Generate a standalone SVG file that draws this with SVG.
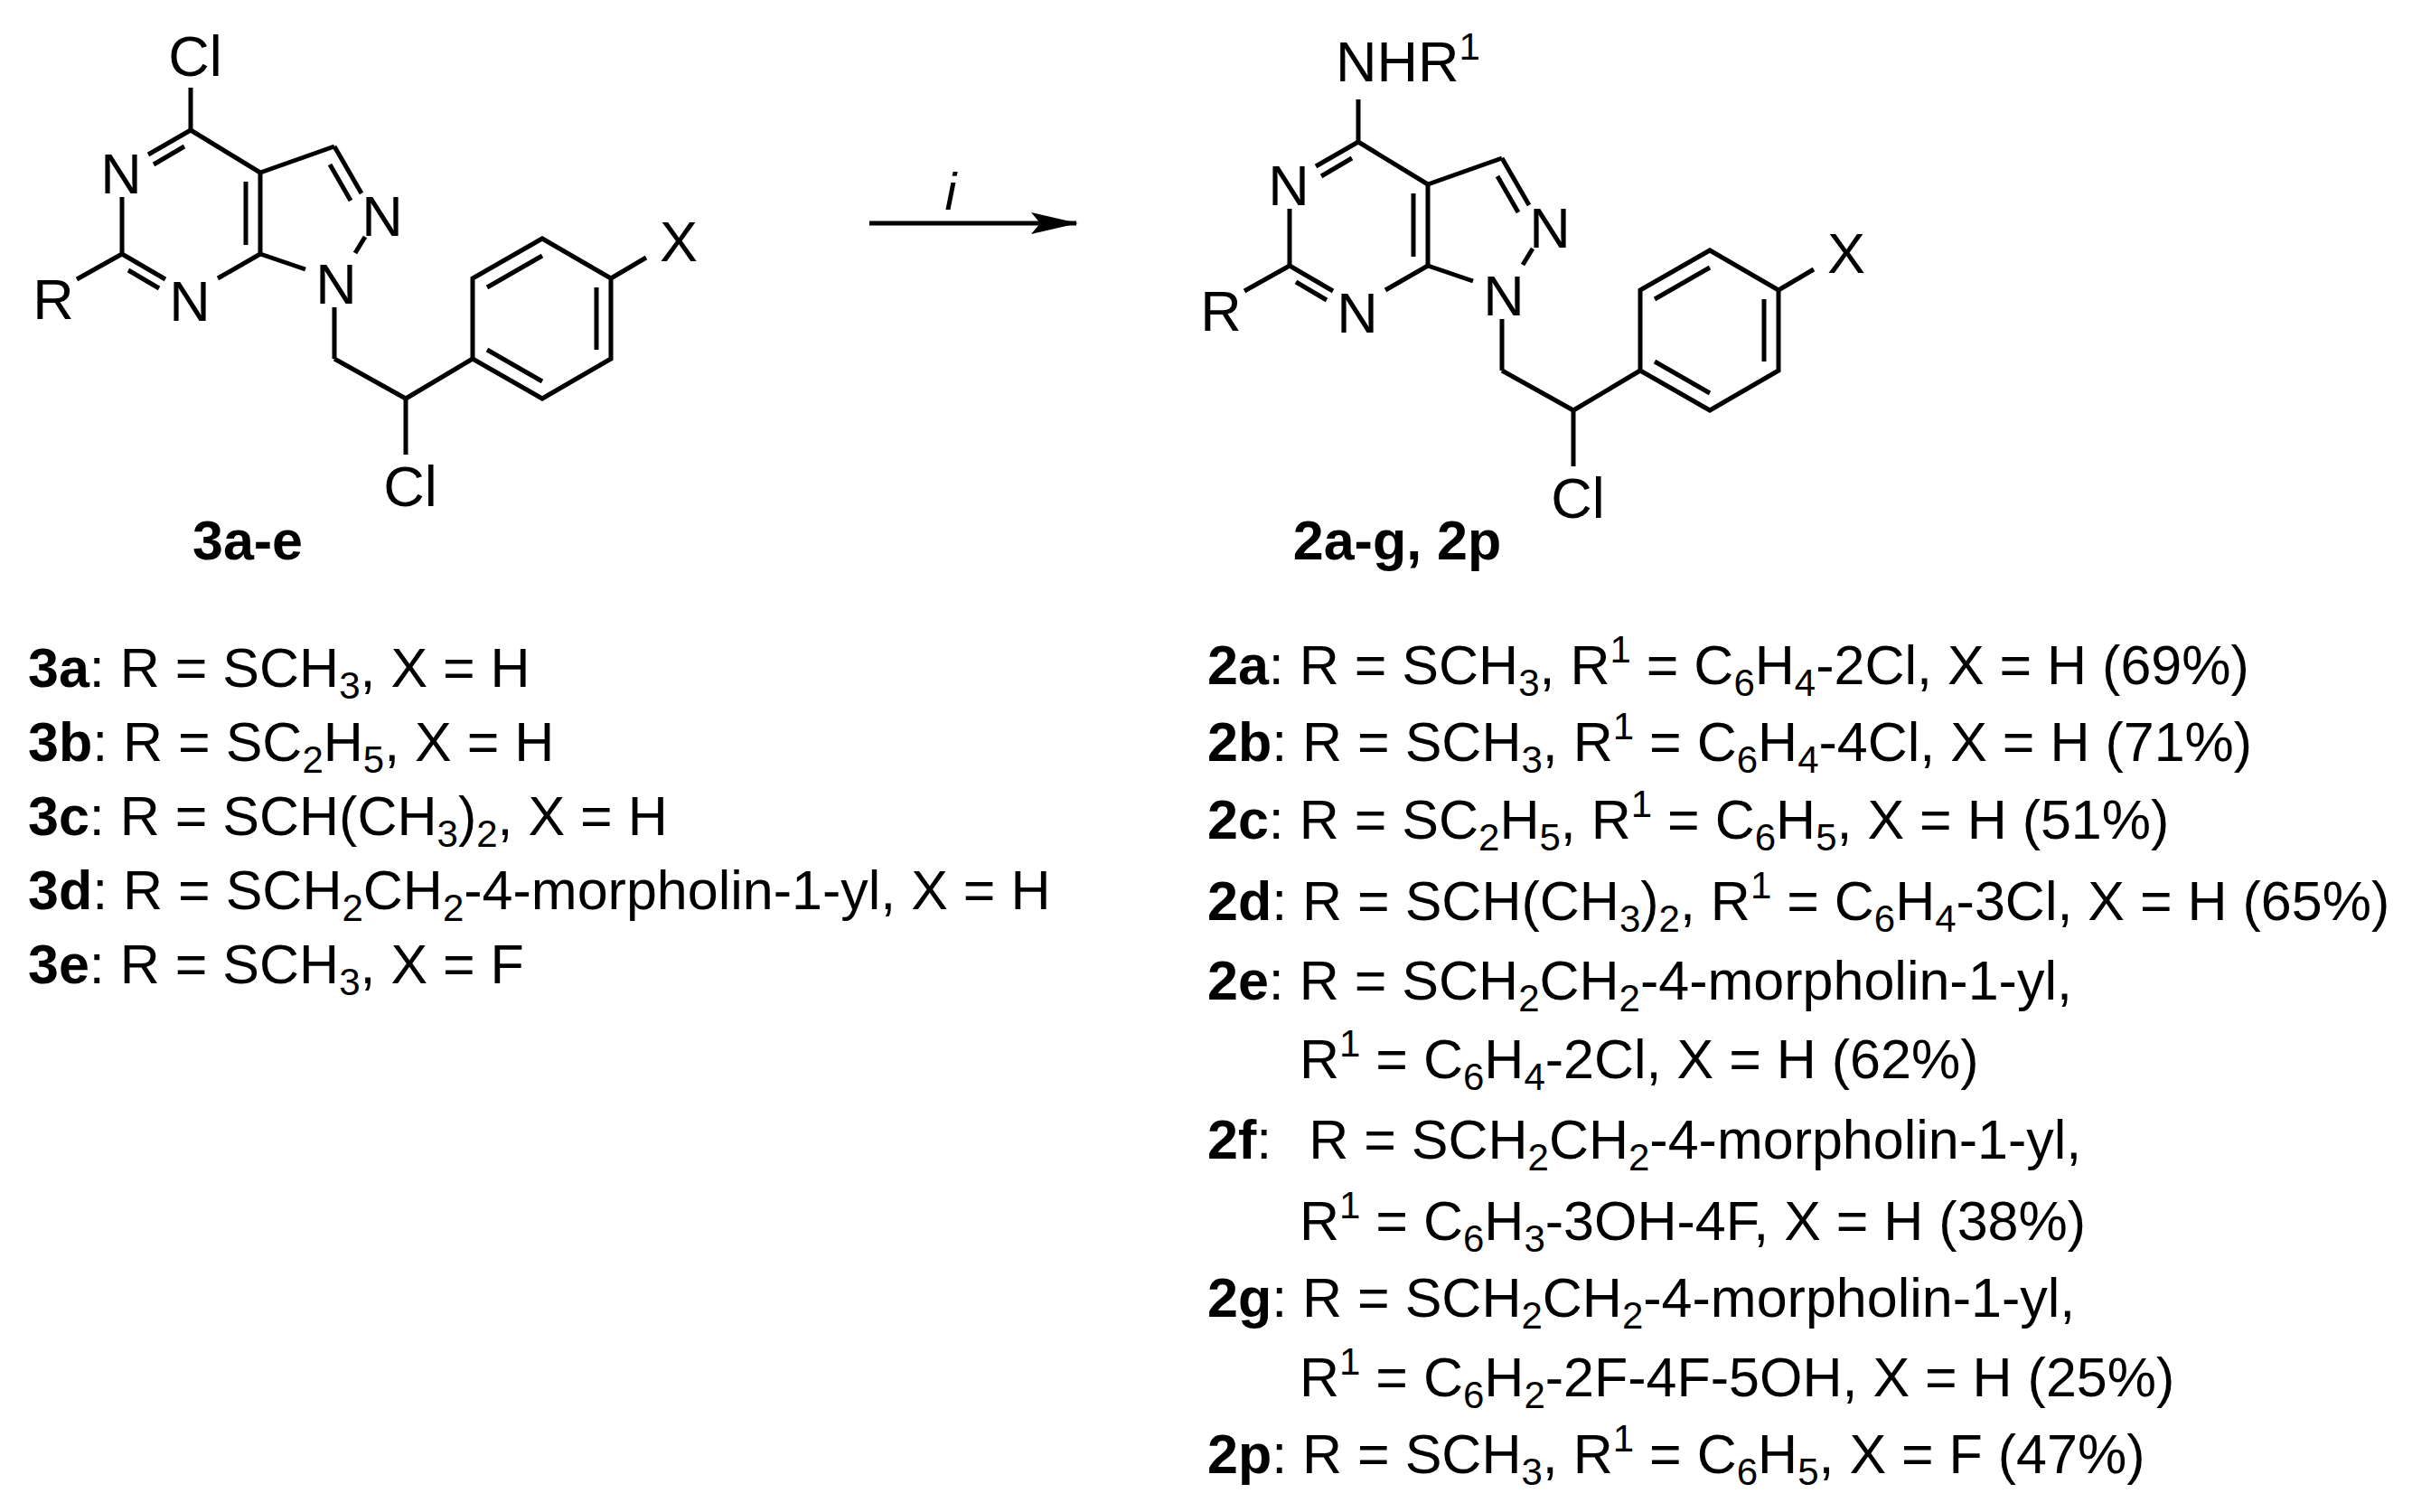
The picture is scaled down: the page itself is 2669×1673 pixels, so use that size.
<svg xmlns="http://www.w3.org/2000/svg" width="2669" height="1673" viewBox="0 0 2669 1673">
<style>
text{font-family:"Liberation Sans",Arial,sans-serif;font-size:61px;fill:#000}
.lbl{text-anchor:middle;font-size:63px}
.b{font-weight:bold}
.s{font-size:42px}
line,polyline{stroke:#000;stroke-width:5;fill:none}
</style>
<defs>
<marker id="ah" markerWidth="52" markerHeight="24" refX="50" refY="12" orient="auto" markerUnits="userSpaceOnUse" viewBox="0 0 52 24">
<path d="M0,0 L52,12 L0,24 L10,12 Z" fill="#000"/>
</marker>
<g id="mol">
<line x1="211" y1="144" x2="211" y2="97"/>
<line x1="211" y1="144" x2="164" y2="171"/>
<line x1="204" y1="162" x2="170" y2="182"/>
<line x1="135" y1="218" x2="135" y2="281"/>
<line x1="135" y1="281" x2="85" y2="309"/>
<line x1="135" y1="281" x2="183" y2="309"/>
<line x1="142" y1="299" x2="176" y2="319"/>
<line x1="241" y1="308" x2="288" y2="281"/>
<line x1="211" y1="144" x2="288" y2="191"/>
<line x1="288" y1="191" x2="288" y2="281"/>
<line x1="272" y1="201" x2="272" y2="271"/>
<line x1="288" y1="191" x2="370" y2="162"/>
<line x1="370" y1="162" x2="400" y2="214"/>
<line x1="365" y1="182" x2="388" y2="222"/>
<line x1="404" y1="262" x2="393" y2="280"/>
<line x1="288" y1="281" x2="338" y2="298"/>
<line x1="370" y1="340" x2="370" y2="397"/>
<polyline points="370,397 449,441 523,397"/>
<line x1="449" y1="441" x2="449" y2="503"/>
<polyline points="523,397 523,308 600,264 676,308 676,397 600,441 523,397"/>
<line x1="539" y1="318" x2="600" y2="283"/>
<line x1="660" y1="318" x2="660" y2="387"/>
<line x1="539" y1="387" x2="600" y2="422"/>
<line x1="676" y1="308" x2="715" y2="285"/>
<text class="lbl" x="134" y="214">N</text>
<text class="lbl" x="210" y="355">N</text>
<text class="lbl" x="423" y="261">N</text>
<text class="lbl" x="372" y="336">N</text>
<text class="lbl" x="59" y="353">R</text>
<text class="lbl" x="751" y="289">X</text>
<text class="lbl" x="454" y="560">Cl</text>
</g>
</defs>
<g id="reactant">
<use href="#mol"/>
<text class="lbl" x="216" y="84">Cl</text>
<text class="lbl b" x="274" y="619" style="font-size:61px">3a-e</text>
</g>
<g id="product">
<use href="#mol" transform="translate(1292,13)"/>
<text x="1478" y="90" style="font-size:63px">NHR<tspan class="s" dy="-24">1</tspan></text>
<text class="lbl b" x="1546" y="619" style="font-size:61px">2a-g, 2p</text>
</g>
<g id="connectors">
<line x1="962" y1="247" x2="1191" y2="247" marker-end="url(#ah)"/>
<text class="lbl" x="1052" y="232" font-style="italic" style="font-size:58px">i</text>
</g>
<g id="list3">
<text x="31" y="760"><tspan class="b">3a</tspan>: R = SCH<tspan class="s" dy="13">3</tspan><tspan dy="-13">, X = H</tspan></text>
<text x="31" y="842"><tspan class="b">3b</tspan>: R = SC<tspan class="s" dy="13">2</tspan><tspan dy="-13">H</tspan><tspan class="s" dy="13">5</tspan><tspan dy="-13">, X = H</tspan></text>
<text x="31" y="924"><tspan class="b">3c</tspan>: R = SCH(CH<tspan class="s" dy="13">3</tspan><tspan dy="-13">)</tspan><tspan class="s" dy="13">2</tspan><tspan dy="-13">, X = H</tspan></text>
<text x="31" y="1006"><tspan class="b">3d</tspan>: R = SCH<tspan class="s" dy="13">2</tspan><tspan dy="-13">CH</tspan><tspan class="s" dy="13">2</tspan><tspan dy="-13">-4-morpholin-1-yl, X = H</tspan></text>
<text x="31" y="1088"><tspan class="b">3e</tspan>: R = SCH<tspan class="s" dy="13">3</tspan><tspan dy="-13">, X = F</tspan></text>
</g>
<g id="list2">
<text x="1336" y="757"><tspan class="b">2a</tspan>: R = SCH<tspan class="s" dy="13">3</tspan><tspan dy="-13">, R</tspan><tspan class="s" dy="-24">1</tspan><tspan dy="24"> = C</tspan><tspan class="s" dy="13">6</tspan><tspan dy="-13">H</tspan><tspan class="s" dy="13">4</tspan><tspan dy="-13">-2Cl, X = H (69%)</tspan></text>
<text x="1336" y="842"><tspan class="b">2b</tspan>: R = SCH<tspan class="s" dy="13">3</tspan><tspan dy="-13">, R</tspan><tspan class="s" dy="-24">1</tspan><tspan dy="24"> = C</tspan><tspan class="s" dy="13">6</tspan><tspan dy="-13">H</tspan><tspan class="s" dy="13">4</tspan><tspan dy="-13">-4Cl, X = H (71%)</tspan></text>
<text x="1336" y="928"><tspan class="b">2c</tspan>: R = SC<tspan class="s" dy="13">2</tspan><tspan dy="-13">H</tspan><tspan class="s" dy="13">5</tspan><tspan dy="-13">, R</tspan><tspan class="s" dy="-24">1</tspan><tspan dy="24"> = C</tspan><tspan class="s" dy="13">6</tspan><tspan dy="-13">H</tspan><tspan class="s" dy="13">5</tspan><tspan dy="-13">, X = H (51%)</tspan></text>
<text x="1336" y="1018"><tspan class="b">2d</tspan>: R = SCH(CH<tspan class="s" dy="13">3</tspan><tspan dy="-13">)</tspan><tspan class="s" dy="13">2</tspan><tspan dy="-13">, R</tspan><tspan class="s" dy="-24">1</tspan><tspan dy="24"> = C</tspan><tspan class="s" dy="13">6</tspan><tspan dy="-13">H</tspan><tspan class="s" dy="13">4</tspan><tspan dy="-13">-3Cl, X = H (65%)</tspan></text>
<text x="1336" y="1106"><tspan class="b">2e</tspan>: R = SCH<tspan class="s" dy="13">2</tspan><tspan dy="-13">CH</tspan><tspan class="s" dy="13">2</tspan><tspan dy="-13">-4-morpholin-1-yl,</tspan></text>
<text x="1438" y="1193">R<tspan class="s" dy="-24">1</tspan><tspan dy="24"> = C</tspan><tspan class="s" dy="13">6</tspan><tspan dy="-13">H</tspan><tspan class="s" dy="13">4</tspan><tspan dy="-13">-2Cl, X = H (62%)</tspan></text>
<text x="1336" y="1282"><tspan class="b">2f</tspan>:<tspan dx="24"> R = SCH</tspan><tspan class="s" dy="13">2</tspan><tspan dy="-13">CH</tspan><tspan class="s" dy="13">2</tspan><tspan dy="-13">-4-morpholin-1-yl,</tspan></text>
<text x="1438" y="1372">R<tspan class="s" dy="-24">1</tspan><tspan dy="24"> = C</tspan><tspan class="s" dy="13">6</tspan><tspan dy="-13">H</tspan><tspan class="s" dy="13">3</tspan><tspan dy="-13">-3OH-4F, X = H (38%)</tspan></text>
<text x="1336" y="1457"><tspan class="b">2g</tspan>: R = SCH<tspan class="s" dy="13">2</tspan><tspan dy="-13">CH</tspan><tspan class="s" dy="13">2</tspan><tspan dy="-13">-4-morpholin-1-yl,</tspan></text>
<text x="1438" y="1545">R<tspan class="s" dy="-24">1</tspan><tspan dy="24"> = C</tspan><tspan class="s" dy="13">6</tspan><tspan dy="-13">H</tspan><tspan class="s" dy="13">2</tspan><tspan dy="-13">-2F-4F-5OH, X = H (25%)</tspan></text>
<text x="1336" y="1630"><tspan class="b">2p</tspan>: R = SCH<tspan class="s" dy="13">3</tspan><tspan dy="-13">, R</tspan><tspan class="s" dy="-24">1</tspan><tspan dy="24"> = C</tspan><tspan class="s" dy="13">6</tspan><tspan dy="-13">H</tspan><tspan class="s" dy="13">5</tspan><tspan dy="-13">, X = F (47%)</tspan></text>
</g>
</svg>
